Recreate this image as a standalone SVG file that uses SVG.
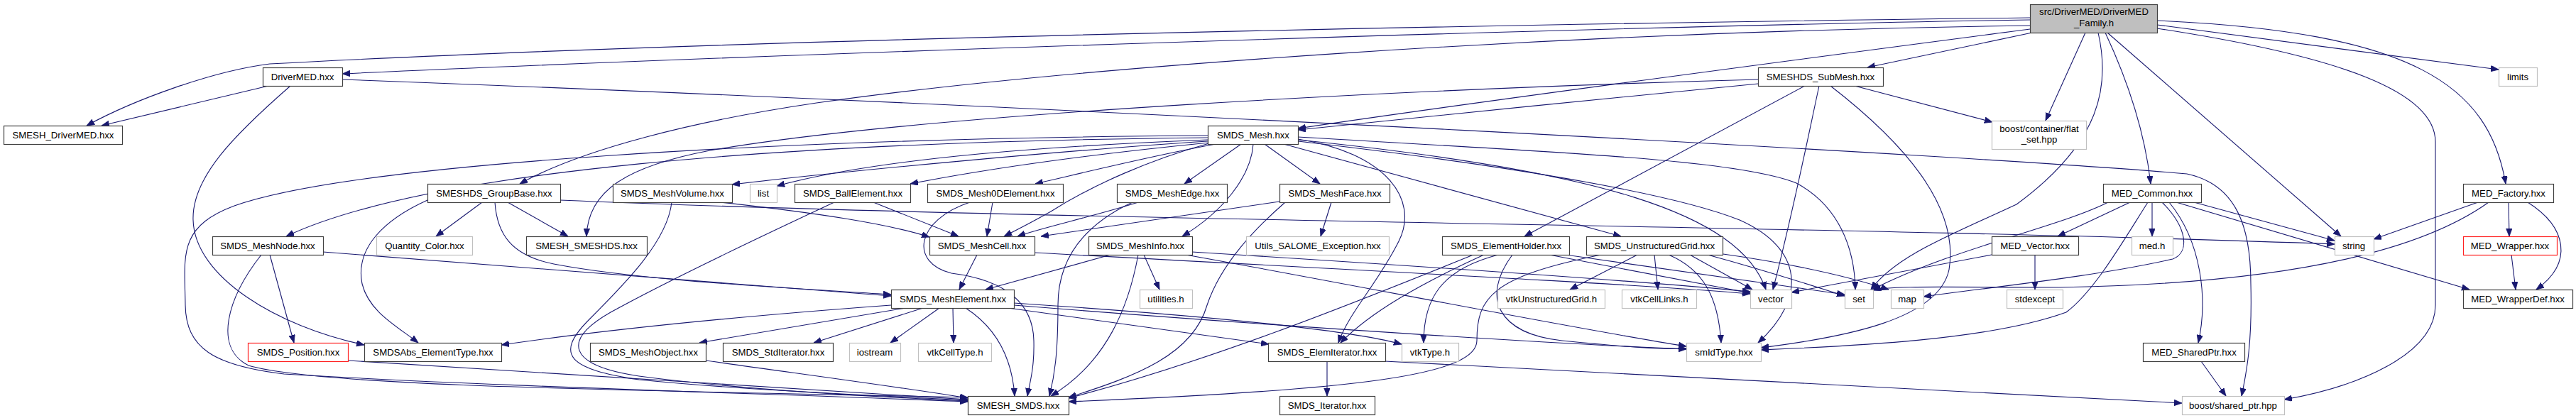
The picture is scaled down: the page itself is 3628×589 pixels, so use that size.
<svg xmlns="http://www.w3.org/2000/svg" width="3628" height="589" viewBox="0 0 3628 589">
<style>
rect{fill:#fff;stroke-width:1.2}
.b rect{stroke:#404040}
.g rect{stroke:#c0c0c0}
.r rect{stroke:#ff2020}
.root rect{fill:#bfbfbf;stroke:#404040}
text{font-family:"Liberation Sans",Arial,sans-serif;font-size:13.2px;text-anchor:middle;fill:#000}
#edges path{fill:none;stroke:#191970;stroke-width:1.1;marker-end:url(#ah)}
</style>
<defs>
<marker id="ah" markerUnits="userSpaceOnUse" markerWidth="12" markerHeight="9" refX="11" refY="4.25" orient="auto">
<path d="M0,0 L11,4.25 L0,8.5 z" fill="#191970" stroke="#191970" stroke-width="0.8"/>
</marker>
</defs>
<rect x="0" y="0" width="3628" height="589" style="fill:#fff;stroke:none"/>
<g id="edges">
<path d="M2859,28 C2200,38 1000,80 482,104"/>
<path d="M2859,25 C1800,38 900,62 380,90 C300,100 190,140 122,177"/>
<path d="M378,121 L143,177"/>
<path d="M2859,36 C2200,45 1500,95 1150,145 C980,170 820,210 732,259"/>
<path d="M2862,46 L2630,95"/>
<path d="M2859,41 C2600,75 2100,140 1828,181"/>
<path d="M2476,118 C2300,135 2000,165 1828,183"/>
<path d="M2937,46 L2881,170"/>
<path d="M2612,121 L2806,172"/>
<path d="M2955,46 C2972,120 2960,200 2840,288 C2750,330 2670,360 2635,408"/>
<path d="M2965,46 C2995,110 3020,180 3029,259"/>
<path d="M2968,46 L3297,333"/>
<path d="M3038,29 C3400,45 3505,120 3529,259"/>
<path d="M3038,35 L3519,98"/>
<path d="M3038,40 C3300,80 3430,130 3430,200 L3430,430 C3430,500 3320,545 3217,563"/>
<path d="M482,112 C1500,150 2800,220 3080,245 C3150,260 3170,320 3170,400 C3172,480 3165,520 3157,558"/>
<path d="M409,121 C330,190 270,250 272,310 C274,390 390,460 513,486"/>
<path d="M1701,197 C1500,205 1250,220 1094,262"/>
<path d="M1701,199 C1500,212 1200,240 1031,260"/>
<path d="M1703,201 C1550,216 1400,236 1282,259"/>
<path d="M1712,203 C1620,220 1540,240 1458,259"/>
<path d="M1748,203 L1668,259"/>
<path d="M1781,203 L1859,259"/>
<path d="M1701,194 C1100,200 600,240 403,333"/>
<path d="M1701,191 C1100,195 500,230 330,290 C250,320 260,360 261,430 C262,490 300,515 400,527 C700,545 1100,555 1363,566"/>
<path d="M1703,202 C1620,225 1540,260 1480,298 C1450,315 1430,325 1414,333"/>
<path d="M1765,203 C1762,250 1720,300 1665,333"/>
<path d="M1828,196 C1950,215 2000,280 1970,340 C1940,400 1900,440 1885,483"/>
<path d="M1808,203 L2283,333"/>
<path d="M1828,193 C2200,215 2450,225 2530,258 C2590,290 2612,350 2613,408"/>
<path d="M1828,199 C2100,230 2350,270 2450,310 C2540,350 2545,420 2476,483"/>
<path d="M1828,197 C2250,240 2450,300 2487,408"/>
<path d="M2476,112 C2000,125 1300,160 1000,212 C880,235 828,270 826,333"/>
<path d="M2542,121 L2147,333"/>
<path d="M2562,121 C2545,200 2525,300 2497,408"/>
<path d="M2578,121 C2680,200 2760,290 2745,380 C2730,450 2600,475 2480,490"/>
<path d="M679,285 L614,333"/>
<path d="M602,282 C540,310 500,350 510,400 C520,440 560,460 589,483"/>
<path d="M715,285 L800,333"/>
<path d="M697,285 C700,330 720,360 780,372 C900,395 1100,405 1255,415"/>
<path d="M789,282 C1500,312 2600,318 3288,344"/>
<path d="M380,359 L414,483"/>
<path d="M368,359 C320,420 300,490 350,515 C450,545 900,550 1363,560"/>
<path d="M455,355 L1255,417"/>
<path d="M490,508 L1363,563"/>
<path d="M994,508 C1150,530 1300,550 1363,561"/>
<path d="M1015,285 C1150,300 1250,315 1309,334"/>
<path d="M946,285 C940,340 880,400 830,450 C780,500 800,520 900,535 C1050,550 1250,558 1363,564"/>
<path d="M1230,285 L1350,333"/>
<path d="M1175,285 C1100,320 950,390 860,440 C790,480 800,515 900,530 C1050,550 1250,560 1363,565"/>
<path d="M1398,285 L1390,333"/>
<path d="M1366,285 C1290,310 1280,370 1340,385 C1420,395 1455,430 1456,480 C1457,520 1450,540 1447,558"/>
<path d="M1603,285 C1540,305 1470,320 1433,333"/>
<path d="M1595,285 C1520,320 1490,370 1490,430 C1490,500 1485,530 1478,558"/>
<path d="M1802,284 L1466,333"/>
<path d="M1875,285 L1860,333"/>
<path d="M1810,285 C1770,320 1720,370 1700,430 C1680,500 1600,530 1505,560"/>
<path d="M1376,359 L1351,408"/>
<path d="M1457,356 C1900,380 2300,400 2465,414"/>
<path d="M1564,359 L1388,408"/>
<path d="M1611,359 L1633,408"/>
<path d="M1603,359 C1590,430 1560,510 1480,558"/>
<path d="M1679,355 C2000,375 2300,395 2465,411"/>
<path d="M1670,359 C1900,400 2200,460 2375,488"/>
<path d="M1255,430 C1050,445 850,465 706,486"/>
<path d="M1275,434 L985,483"/>
<path d="M1300,434 L1146,483"/>
<path d="M1323,434 L1254,483"/>
<path d="M1342,434 L1343,483"/>
<path d="M1360,434 C1400,460 1425,500 1429,558"/>
<path d="M1428,427 C1700,445 1900,465 1974,485"/>
<path d="M1428,430 C1800,460 2200,485 2375,492"/>
<path d="M1420,434 L1787,485"/>
<path d="M2075,359 C1900,430 1700,510 1505,561"/>
<path d="M2090,359 C2000,400 1930,440 1888,483"/>
<path d="M2110,359 C2030,380 2005,420 2005,483"/>
<path d="M2130,359 C2085,420 2110,470 2200,480 C2300,490 2340,492 2375,491"/>
<path d="M2182,359 L2465,413"/>
<path d="M2205,359 C2350,380 2500,400 2598,415"/>
<path d="M2306,359 L2211,408"/>
<path d="M2330,359 L2335,408"/>
<path d="M2255,359 C2100,390 2080,420 2080,480 C2080,530 1900,550 1505,566"/>
<path d="M2350,359 C2400,380 2420,420 2424,483"/>
<path d="M2380,359 L2468,408"/>
<path d="M2405,359 C2500,385 2560,405 2598,417"/>
<path d="M2420,357 C2550,375 2620,395 2660,408"/>
<path d="M3000,285 L2898,333"/>
<path d="M3031,285 L3031,333"/>
<path d="M3045,285 C3080,320 3085,355 3060,365 C2950,390 2800,405 2709,418"/>
<path d="M3055,285 C3100,340 3110,420 3096,483"/>
<path d="M3065,285 L3478,408"/>
<path d="M3090,285 L3288,339"/>
<path d="M3025,285 C2990,340 2950,410 2910,440 C2800,480 2600,488 2480,493"/>
<path d="M2969,285 C2900,320 2750,350 2637,408"/>
<path d="M2805,359 L2523,412"/>
<path d="M2866,359 L2866,408"/>
<path d="M3490,285 L3343,337"/>
<path d="M3533,285 L3534,333"/>
<path d="M3560,285 C3615,320 3625,370 3572,408"/>
<path d="M3505,285 C3400,360 3200,400 2900,405 C2750,405 2660,402 2638,409"/>
<path d="M3537,359 L3543,408"/>
<path d="M3100,509 L3135,558"/>
<path d="M1869,509 L1869,558"/>
<path d="M1950,509 C2400,530 2800,555 3073,568"/>
</g>
<g id="n_root" class="root"><rect x="2859.5" y="6.5" width="179" height="40"/><text x="2949" y="21">src/DriverMED/DriverMED</text><text x="2949" y="37">_Family.h</text></g>
<g id="n_DriverMED" class="b"><rect x="370.5" y="95.5" width="112" height="26"/><text x="426" y="113">DriverMED.hxx</text></g>
<g id="n_SubMesh" class="b"><rect x="2476.5" y="95.5" width="176" height="26"/><text x="2564" y="113">SMESHDS_SubMesh.hxx</text></g>
<g id="n_limits" class="g"><rect x="3519.5" y="95.5" width="54" height="26"/><text x="3546" y="113">limits</text></g>
<g id="n_flatset" class="g"><rect x="2805.5" y="170.5" width="133" height="40"/><text x="2872" y="186">boost/container/flat</text><text x="2872" y="201">_set.hpp</text></g>
<g id="n_SMESH_DriverMED" class="b"><rect x="5.5" y="177.5" width="167" height="26"/><text x="89" y="195">SMESH_DriverMED.hxx</text></g>
<g id="n_SMDS_Mesh" class="b"><rect x="1701.5" y="177.5" width="127" height="26"/><text x="1765" y="195">SMDS_Mesh.hxx</text></g>
<g id="n_GroupBase" class="b"><rect x="602.5" y="259.5" width="187" height="26"/><text x="696" y="277">SMESHDS_GroupBase.hxx</text></g>
<g id="n_MeshVolume" class="b"><rect x="863.5" y="259.5" width="168" height="26"/><text x="947" y="277">SMDS_MeshVolume.hxx</text></g>
<g id="n_list" class="g"><rect x="1056.5" y="259.5" width="38" height="26"/><text x="1075" y="277">list</text></g>
<g id="n_BallElement" class="b"><rect x="1119.5" y="259.5" width="163" height="26"/><text x="1201" y="277">SMDS_BallElement.hxx</text></g>
<g id="n_Mesh0D" class="b"><rect x="1306.5" y="259.5" width="191" height="26"/><text x="1402" y="277">SMDS_Mesh0DElement.hxx</text></g>
<g id="n_MeshEdge" class="b"><rect x="1573.5" y="259.5" width="155" height="26"/><text x="1651" y="277">SMDS_MeshEdge.hxx</text></g>
<g id="n_MeshFace" class="b"><rect x="1802.5" y="259.5" width="155" height="26"/><text x="1880" y="277">SMDS_MeshFace.hxx</text></g>
<g id="n_MED_Common" class="b"><rect x="2962.5" y="259.5" width="138" height="26"/><text x="3031" y="277">MED_Common.hxx</text></g>
<g id="n_MED_Factory" class="b"><rect x="3469.5" y="259.5" width="127" height="26"/><text x="3533" y="277">MED_Factory.hxx</text></g>
<g id="n_MeshNode" class="b"><rect x="299.5" y="333.5" width="156" height="26"/><text x="377" y="351">SMDS_MeshNode.hxx</text></g>
<g id="n_Quantity" class="g"><rect x="530.5" y="333.5" width="135" height="26"/><text x="598" y="351">Quantity_Color.hxx</text></g>
<g id="n_SMESH_SMESHDS" class="b"><rect x="741.5" y="333.5" width="170" height="26"/><text x="826" y="351">SMESH_SMESHDS.hxx</text></g>
<g id="n_MeshCell" class="b"><rect x="1309.5" y="333.5" width="148" height="26"/><text x="1383" y="351">SMDS_MeshCell.hxx</text></g>
<g id="n_MeshInfo" class="b"><rect x="1533.5" y="333.5" width="146" height="26"/><text x="1606" y="351">SMDS_MeshInfo.hxx</text></g>
<g id="n_Utils" class="g"><rect x="1755.5" y="333.5" width="201" height="26"/><text x="1856" y="351">Utils_SALOME_Exception.hxx</text></g>
<g id="n_ElementHolder" class="b"><rect x="2031.5" y="333.5" width="179" height="26"/><text x="2121" y="351">SMDS_ElementHolder.hxx</text></g>
<g id="n_UnstructuredGrid" class="b"><rect x="2234.5" y="333.5" width="192" height="26"/><text x="2330" y="351">SMDS_UnstructuredGrid.hxx</text></g>
<g id="n_MED_Vector" class="b"><rect x="2805.5" y="333.5" width="122" height="26"/><text x="2866" y="351">MED_Vector.hxx</text></g>
<g id="n_medh" class="g"><rect x="3002.5" y="333.5" width="58" height="26"/><text x="3031" y="351">med.h</text></g>
<g id="n_string" class="g"><rect x="3288.5" y="333.5" width="55" height="26"/><text x="3315" y="351">string</text></g>
<g id="n_MED_Wrapper" class="r"><rect x="3469.5" y="333.5" width="132" height="26"/><text x="3535" y="351">MED_Wrapper.hxx</text></g>
<g id="n_MeshElement" class="b"><rect x="1255.5" y="408.5" width="173" height="26"/><text x="1342" y="426">SMDS_MeshElement.hxx</text></g>
<g id="n_utilities" class="g"><rect x="1605.5" y="408.5" width="74" height="26"/><text x="1642" y="426">utilities.h</text></g>
<g id="n_vtkUG" class="g"><rect x="2109.5" y="408.5" width="151" height="26"/><text x="2185" y="426">vtkUnstructuredGrid.h</text></g>
<g id="n_vtkCellLinks" class="g"><rect x="2284.5" y="408.5" width="105" height="26"/><text x="2337" y="426">vtkCellLinks.h</text></g>
<g id="n_vector" class="g"><rect x="2465.5" y="408.5" width="58" height="26"/><text x="2494" y="426">vector</text></g>
<g id="n_set" class="g"><rect x="2598.5" y="408.5" width="40" height="26"/><text x="2618" y="426">set</text></g>
<g id="n_map" class="g"><rect x="2663.5" y="408.5" width="46" height="26"/><text x="2686" y="426">map</text></g>
<g id="n_stdexcept" class="g"><rect x="2826.5" y="408.5" width="79" height="26"/><text x="2866" y="426">stdexcept</text></g>
<g id="n_MED_WrapperDef" class="b"><rect x="3469.5" y="408.5" width="154" height="26"/><text x="3546" y="426">MED_WrapperDef.hxx</text></g>
<g id="n_Position" class="r"><rect x="349.5" y="483.5" width="141" height="26"/><text x="420" y="501">SMDS_Position.hxx</text></g>
<g id="n_SMDSAbs" class="b"><rect x="513.5" y="483.5" width="193" height="26"/><text x="610" y="501">SMDSAbs_ElementType.hxx</text></g>
<g id="n_MeshObject" class="b"><rect x="831.5" y="483.5" width="163" height="26"/><text x="913" y="501">SMDS_MeshObject.hxx</text></g>
<g id="n_StdIterator" class="b"><rect x="1018.5" y="483.5" width="155" height="26"/><text x="1096" y="501">SMDS_StdIterator.hxx</text></g>
<g id="n_iostream" class="g"><rect x="1196.5" y="483.5" width="72" height="26"/><text x="1232" y="501">iostream</text></g>
<g id="n_vtkCellType" class="g"><rect x="1293.5" y="483.5" width="103" height="26"/><text x="1345" y="501">vtkCellType.h</text></g>
<g id="n_ElemIterator" class="b"><rect x="1786.5" y="483.5" width="165" height="26"/><text x="1869" y="501">SMDS_ElemIterator.hxx</text></g>
<g id="n_vtkType" class="g"><rect x="1974.5" y="483.5" width="80" height="26"/><text x="2014" y="501">vtkType.h</text></g>
<g id="n_smIdType" class="g"><rect x="2375.5" y="483.5" width="105" height="26"/><text x="2428" y="501">smIdType.hxx</text></g>
<g id="n_MED_SharedPtr" class="b"><rect x="3018.5" y="483.5" width="143" height="26"/><text x="3090" y="501">MED_SharedPtr.hxx</text></g>
<g id="n_SMESH_SMDS" class="b"><rect x="1363.5" y="558.5" width="142" height="26"/><text x="1434" y="576">SMESH_SMDS.hxx</text></g>
<g id="n_SMDS_Iterator" class="b"><rect x="1802.5" y="558.5" width="134" height="26"/><text x="1869" y="576">SMDS_Iterator.hxx</text></g>
<g id="n_shared_ptr" class="g"><rect x="3073.5" y="558.5" width="144" height="26"/><text x="3145" y="576">boost/shared_ptr.hpp</text></g>
</svg>
